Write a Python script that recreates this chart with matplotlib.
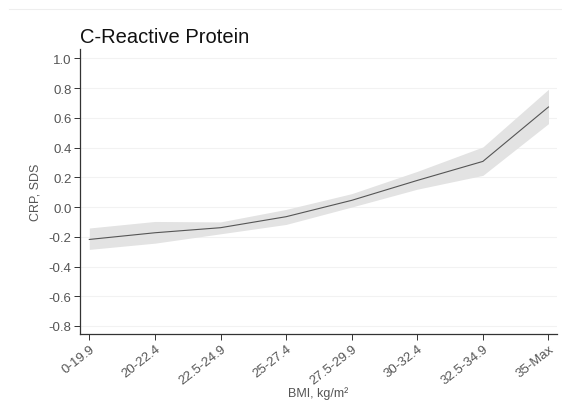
import numpy as np
import matplotlib.pyplot as plt
from matplotlib.lines import Line2D

plt.rcParams['font.family'] = ['Liberation Sans', 'DejaVu Sans']

# BMI categories and CRP estimates (SDS) with 95% CI
bmi_groups = ["0-19.9", "20-22.4", "22.5-24.9", "25-27.4",
              "27.5-29.9", "30-32.4", "32.5-34.9", "35-Max"]
crp_mean = [-0.218, -0.173, -0.139, -0.065, 0.045, 0.179, 0.307, 0.673]
crp_lower = [-0.285, -0.243, -0.180, -0.117, 0.000, 0.120, 0.213, 0.561]
crp_upper = [-0.141, -0.097, -0.100, -0.016, 0.090, 0.240, 0.404, 0.792]
y_ticks = [-0.8, -0.6, -0.4, -0.2, 0.0, 0.2, 0.4, 0.6, 0.8, 1.0]

fig = plt.figure(figsize=(5.62, 4.14), dpi=100)
ax = fig.add_axes([80 / 562, 1 - 335 / 414, 477 / 562, 285 / 414])

x = np.arange(1, len(bmi_groups) + 1)
ax.fill_between(x, crp_lower, crp_upper, color="#e3e3e3", linewidth=0, zorder=2)
ax.plot(x, crp_mean, color="#555555", linewidth=0.8, zorder=3)

ax.set_xlim(0.858, 8.13)
ax.set_ylim(-0.854, 1.063)
ax.set_yticks(y_ticks)
ax.set_yticklabels([f"{v:.1f}" for v in y_ticks])
ax.set_xticks(x)
ax.set_xticklabels(bmi_groups, rotation=38, ha="right", va="top",
                   rotation_mode="anchor")

ax.grid(axis="y", color="#f2f2f2", linewidth=0.8, zorder=0)
ax.set_axisbelow(True)
for s in ("top", "right"):
    ax.spines[s].set_visible(False)
for s in ("left", "bottom"):
    ax.spines[s].set_color("#333333")
    ax.spines[s].set_linewidth(0.9)
ax.tick_params(axis="both", length=4, width=0.7, color="#333333",
               labelsize=9.5, labelcolor="#555555", pad=2)

ax.set_ylabel("CRP, SDS", fontsize=9, color="#555555", labelpad=5)
ax.set_xlabel("BMI, kg/m²", fontsize=9, color="#555555", labelpad=0)
ax.set_title("C-Reactive Protein", loc="left", fontsize=14.5, color="#111111",
             pad=5)

# faint rule across the top of the graph region
fig.add_artist(Line2D([9 / 562, 1], [1 - 10 / 414, 1 - 10 / 414],
                      color="#eeeeee", linewidth=0.8))

fig.savefig("out.png", dpi=100, facecolor="white")
